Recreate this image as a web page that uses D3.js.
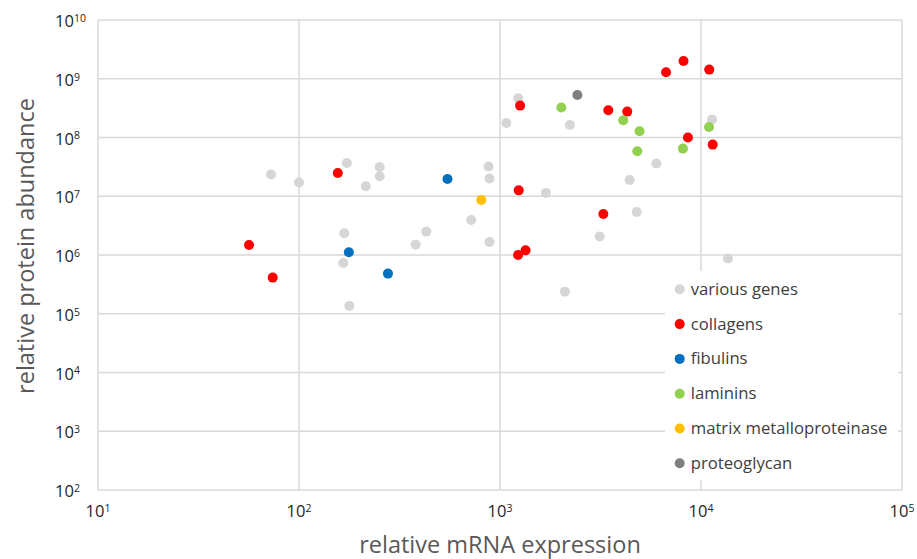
<!DOCTYPE html>
<html>
<head>
<meta charset="utf-8">
<script src="https://cdn.jsdelivr.net/npm/d3@7"></script>
<style>
  body { margin: 0; background: #fff; }
  svg { font-family: "Open Sans", "Noto Sans", sans-serif; }
</style>
</head>
<body>
<svg id="chart"></svg>
<script>
// Protein abundance vs mRNA expression, log-log scatter

// values: [mRNA, protein]
const variousGenes = [
  [72.6, 2.34e7], [100, 1.71e7], [173, 3.68e7], [252, 3.15e7], [252, 2.19e7],
  [215, 1.48e7], [877, 3.2e7], [887, 2.0e7], [719, 3.94e6], [430, 2.5e6],
  [380, 1.5e6], [887, 1.66e6], [168, 2.34e6], [166, 7.3e5], [178, 1.36e5],
  [1233, 4.65e8], [1075, 1.77e8], [2228, 1.63e8], [11350, 2.02e8], [6000, 3.6e7],
  [4416, 1.89e7], [1694, 1.14e7], [4786, 5.4e6], [3133, 2.06e6], [13610, 8.7e5],
  [2104, 2.38e5]
];
const collagens = [
  [56.4, 1.48e6], [74, 4.12e5], [156, 2.49e7], [1259, 3.49e8], [1239, 1.26e7],
  [1340, 1.2e6], [1230, 1.0e6], [3266, 4.99e6], [3458, 2.9e8], [4296, 2.76e8],
  [6700, 1.29e9], [8185, 2.0e9], [10990, 1.43e9], [8610, 1.0e8], [11430, 7.57e7]
];
const fibulins = [[548, 1.97e7], [177, 1.11e6], [277, 4.82e5]];
const laminins = [
  [2018, 3.23e8], [4102, 1.96e8], [4946, 1.28e8], [10960, 1.51e8],
  [4820, 5.82e7], [8128, 6.47e7]
];
const metalloproteinase = [[807, 8.63e6]];
const proteoglycan = [[2427, 5.29e8]];

const seriesNames = ["various genes", "collagens", "fibulins", "laminins",
                     "matrix metalloproteinase", "proteoglycan"];
const seriesColors = ["#d6d6d6", "#ff0000", "#0070c0", "#92d050", "#ffc000", "#7f7f7f"];
const seriesData = [variousGenes, collagens, fibulins, laminins, metalloproteinase, proteoglycan];

const xTicks = [1e1, 1e2, 1e3, 1e4, 1e5];
const yTicks = [1e2, 1e3, 1e4, 1e5, 1e6, 1e7, 1e8, 1e9, 1e10];

const margin = { top: 20, right: 15, bottom: 69, left: 98 };
const width = 917 - margin.left - margin.right;
const height = 559 - margin.top - margin.bottom;

const svg = d3.select("#chart")
    .attr("width", 917)
    .attr("height", 559);

const g = svg.append("g")
    .attr("transform", "translate(" + margin.left + "," + margin.top + ")");

const x = d3.scaleLog().domain([1e1, 1e5]).range([0, width]);
const y = d3.scaleLog().domain([1e2, 1e10]).range([height, 0]);

const gridColor = "#d9d9d9";

// gridlines
g.selectAll(".vgrid")
  .data(xTicks)
  .enter().append("line")
    .attr("x1", d => x(d)).attr("x2", d => x(d))
    .attr("y1", 0).attr("y2", height)
    .attr("stroke", gridColor).attr("stroke-width", 1.5);

g.selectAll(".hgrid")
  .data(yTicks)
  .enter().append("line")
    .attr("x1", 0).attr("x2", width)
    .attr("y1", d => y(d)).attr("y2", d => y(d))
    .attr("stroke", gridColor).attr("stroke-width", 1.5);

// tick labels as 10 with superscript exponent
const exp = d => Math.round(Math.log10(d));

const xLab = g.selectAll(".xlab")
  .data(xTicks)
  .enter().append("text")
    .attr("x", d => x(d))
    .attr("y", height + 27)
    .attr("text-anchor", "middle")
    .attr("fill", "#262626")
    .style("font-size", "16.5px");
xLab.append("tspan").text("10");
xLab.append("tspan").attr("dy", "-0.5em").style("font-size", "10.5px").text(d => exp(d));

const yLab = g.selectAll(".ylab")
  .data(yTicks)
  .enter().append("text")
    .attr("x", -43)
    .attr("y", d => y(d) + 7)
    .attr("fill", "#262626")
    .style("font-size", "16.5px");
yLab.append("tspan").text("10");
yLab.append("tspan").attr("dy", "-0.5em").style("font-size", "10.5px").text(d => exp(d));

// legend box covers the grid
const legend = g.append("g").attr("transform", "translate(" + (665 - margin.left) + "," + (271 - margin.top) + ")");
legend.append("rect")
    .attr("width", 233).attr("height", 209)
    .attr("fill", "#fff");

// points
seriesData.forEach((data, i) => {
  g.append("g").selectAll("circle")
    .data(data)
    .enter().append("circle")
      .attr("cx", d => x(d[0]))
      .attr("cy", d => y(d[1]))
      .attr("r", 5)
      .attr("fill", seriesColors[i]);
});

const items = legend.selectAll(".item")
  .data(seriesNames)
  .enter().append("g")
    .attr("transform", (d, i) => "translate(0," + (18.3 + i * 34.8) + ")");
items.append("circle")
    .attr("cx", 14.7).attr("cy", 0).attr("r", 5)
    .attr("fill", (d, i) => seriesColors[i]);
items.append("text")
    .attr("x", 25.7).attr("y", 5.5)
    .attr("fill", "#404040")
    .style("font-size", "16.7px")
    .text(d => d);

// axis titles
svg.append("text")
    .attr("x", margin.left + width / 2)
    .attr("y", 553)
    .attr("text-anchor", "middle")
    .attr("fill", "#595959")
    .style("font-size", "23.5px")
    .text("relative mRNA expression");

svg.append("text")
    .attr("transform", "translate(34," + (margin.top + height / 2 - 9) + ") rotate(-90)")
    .attr("text-anchor", "middle")
    .attr("fill", "#595959")
    .style("font-size", "23.5px")
    .text("relative protein abundance");
</script>
</body>
</html>
